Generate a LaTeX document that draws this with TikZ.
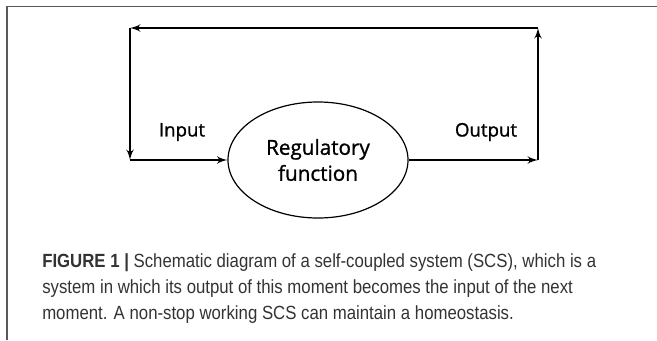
\documentclass[tikz,border=0pt]{standalone}
\usepackage{fontspec}
\setmainfont{Open Sans}
\newfontfamily\capfont[FakeStretch=0.88]{Liberation Sans}
\usepackage{tikz}
\usetikzlibrary{shapes.geometric}
\usetikzlibrary{positioning}
\usetikzlibrary{arrows}

\begin{document}
\begin{tikzpicture}[x=0.75pt,y=-0.75pt,>=latex',
	flow/.style={->,line width=1.7pt},
	main node/.style={ellipse,draw,line width=0.9pt,minimum width=135pt,minimum height=87pt,
		align=center,inner sep=0pt,font=\addfontfeatures{FakeBold=1.1}\fontsize{15.5}{19.5}\selectfont},
	lbl/.style={font=\addfontfeatures{FakeBold=1.1}\fontsize{14}{17}\selectfont}]
	
	\useasboundingbox (0,0) rectangle (657,340);
	\draw[line width=1.1pt,black!65] (7,340) -- (7,6.5) -- (657,6.5);
	
	\node[main node] (reg) at (318,160) {Regulatory\\function};
	\coordinate (in) at (130,160);
	\coordinate (out) at (538,160);
	\coordinate (tl) at (130,28);
	\coordinate (tr) at (538,28);
	
	\node[lbl] (input) at (182,132) {Input};
	\node[lbl] (output) at (486,132) {Output};
	
	\draw[flow] (reg.east) -- (out);
	\draw[flow] (out) -- (tr);
	\draw[flow] (tr) -- (tl);
	\draw[flow] (tl) -- (in);
	\draw[flow] (in) -- (reg.west);
	
	\node[anchor=north west,align=left,inner sep=0pt,text=black!80,
		font=\capfont\fontsize{14.3}{19.3}\selectfont] (cap) at (42,253.5)
	{\textbf{FIGURE 1 |} Schematic diagram of a self-coupled system (SCS), which is a\\
		system in which its output of this moment becomes the input of the next\\
		moment. A non-stop working SCS can maintain a homeostasis.};
\end{tikzpicture}
\end{document}
